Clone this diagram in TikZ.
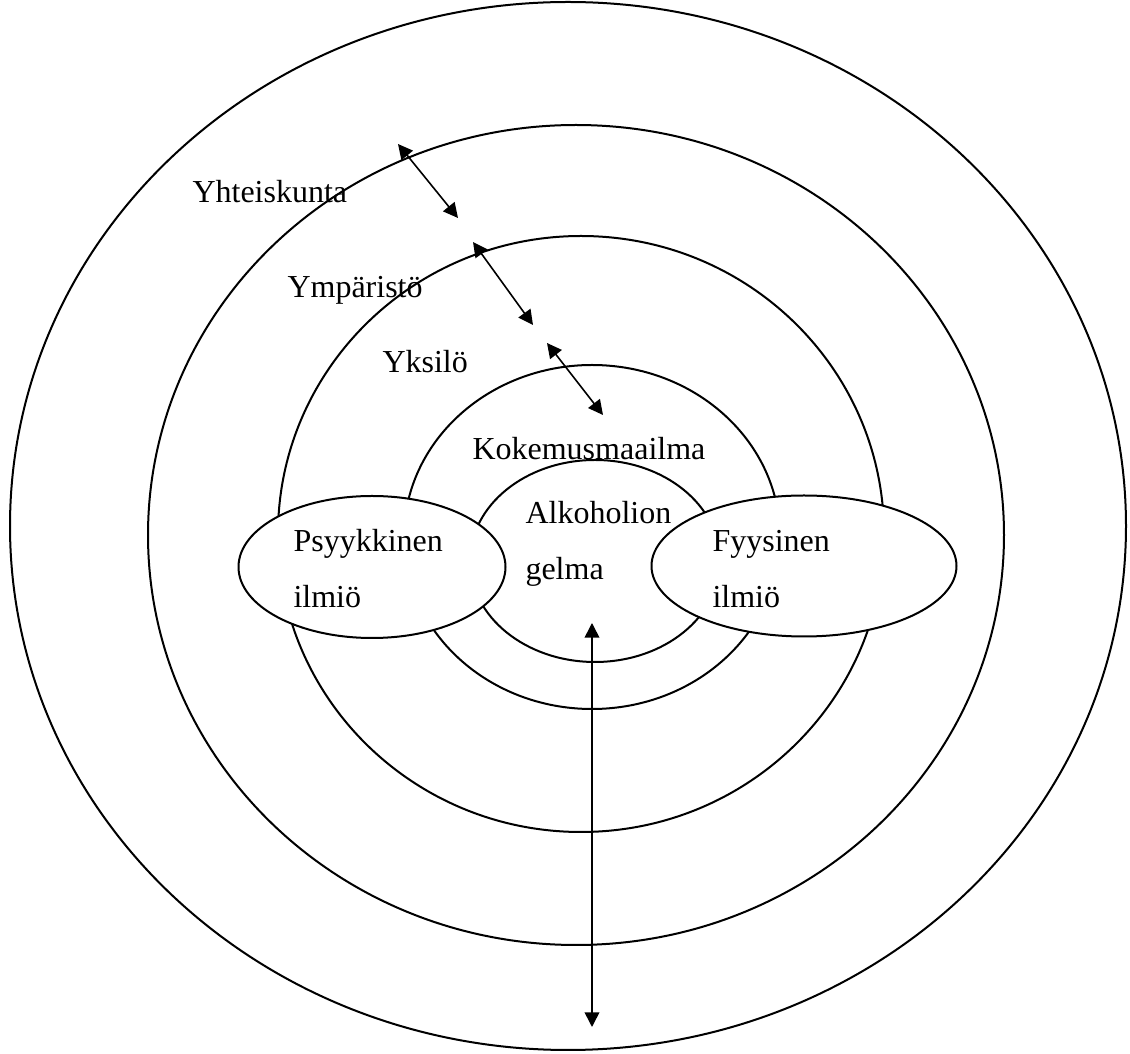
\documentclass[tikz,border=0pt]{standalone}
\usepackage{fontspec}
\setmainfont{Liberation Serif}
\usetikzlibrary{shapes.geometric, arrows.meta}
\definecolor{ink}{HTML}{000000}
\tikzset{
  ring/.style 2 args = {draw=ink, line width=0.75pt, ellipse, inner sep=0pt,
                        minimum width=#1*0.375pt, minimum height=#2*0.375pt},
  blob/.style 2 args = {ring={#1}{#2}, fill=white},
  flow/.style        = {{Triangle[length=5.5pt, width=5.5pt]}-{Triangle[length=5.5pt, width=5.5pt]},
                        draw=ink, line width=0.6pt},
  lbl/.style         = {anchor=base west, inner sep=0pt, align=left, text=ink,
                        font=\fontsize{12}{21}\selectfont},
}

\begin{document}
\begin{tikzpicture}[x=0.375pt, y=-0.375pt]
  \useasboundingbox (0,0) rectangle (1130,1054);

  % levels, outside in
  \node[ring={1116}{1048}] (yhteis) at (568,526) {};
  \node[ring={856}{820}] (ymp) at (576,535) {};
  \node[ring={606}{596}] (yksilo) at (581,534) {};
  \node[ring={376}{344}] (kokemus) at (592,537) {};
  \node[blob={250}{202}] (gelma) at (595,561) {};
  \node[blob={267}{142}] (psyyk) at (372,567) {};
  \node[blob={305}{141}] (fyys) at (804,566) {};

  % base west of a two-line label sits on its last line
  \node[lbl] (yhteislbl) at (192,203) {Yhteiskunta};
  \node[lbl] (ymplbl) at (287,298) {Ympäristö};
  \node[lbl] (yksilolbl) at (382,373) {Yksilö};
  \node[lbl] (kokemuslbl) at (472,460) {Kokemusmaailma};
  \node[lbl] (gelmalbl) at (525,580) {Alkoholion\\gelma};
  \node[lbl] (psyyklbl) at (293,608) {Psyykkinen\\ilmiö};
  \node[lbl] (fyyslbl) at (712,608) {Fyysinen\\ilmiö};

  % interaction between levels
  \coordinate (a1) at (398,144);
  \coordinate (b1) at (458,218);
  \coordinate (a2) at (473,242);
  \coordinate (b2) at (533,325);
  \coordinate (a3) at (547,343);
  \coordinate (b3) at (603,415);
  \coordinate (a4) at (592,623);
  \coordinate (b4) at (592,1027);

  \draw[flow] (a1) -- (b1);
  \draw[flow] (a2) -- (b2);
  \draw[flow] (a3) -- (b3);
  \draw[flow] (a4) -- (b4);
\end{tikzpicture}
\end{document}
